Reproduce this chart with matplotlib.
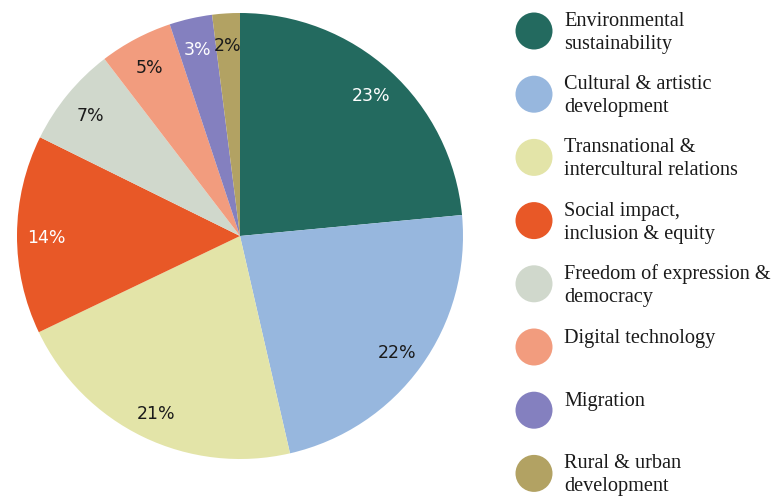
import matplotlib
matplotlib.use("Agg")
import matplotlib.pyplot as plt
from matplotlib.patches import Circle
import numpy as np

# Data
categories = [
    "Environmental\nsustainability",
    "Cultural & artistic\ndevelopment",
    "Transnational &\nintercultural relations",
    "Social impact,\ninclusion & equity",
    "Freedom of expression &\ndemocracy",
    "Digital technology",
    "Migration",
    "Rural & urban\ndevelopment",
]
shares = [23.5, 22.9, 21.5, 14.4, 7.3, 5.3, 3.1, 2.0]
pct_labels = ["23%", "22%", "21%", "14%", "7%", "5%", "3%", "2%"]
colors = ["#236A5F", "#97B7DE", "#E3E4A8", "#E85827",
          "#D0D8CC", "#F29C7E", "#8480BF", "#B2A263"]
label_colors = ["white", "#1a1a1a", "#1a1a1a", "white",
                "#1a1a1a", "#1a1a1a", "white", "#1a1a1a"]

W, H = 776, 496
fig = plt.figure(figsize=(W / 100, H / 100), dpi=100)

# Pie
ax = fig.add_axes([17 / W, (H - 459) / H, 446 / W, 446 / H])
wedges, _ = ax.pie(shares, colors=colors, startangle=90, counterclock=False,
                   radius=1.0, wedgeprops=dict(linewidth=0))
ax.set_xlim(-1, 1)
ax.set_ylim(-1, 1)
ax.set_aspect("equal")

for w, txt, c in zip(wedges, pct_labels, label_colors):
    ang = np.deg2rad((w.theta1 + w.theta2) / 2)
    r = 0.87
    ax.text(r * np.cos(ang), r * np.sin(ang) - 0.015, txt, ha="center",
            va="center", color=c, fontsize=12.5, family="DejaVu Sans")

# Legend drawn in pixel coordinates
lax = fig.add_axes([0, 0, 1, 1])
lax.set_xlim(0, W)
lax.set_ylim(H, 0)
lax.axis("off")
row_y0, row_step = 31, 63.2
for i, (name, col) in enumerate(zip(categories, colors)):
    y = row_y0 + i * row_step
    lax.add_patch(Circle((534, y), 18.5, color=col, lw=0))
    ty = y + 2 if "\n" in name else y - 9
    lax.text(564, ty, name, ha="left", va="center", fontsize=14.6,
             family="Liberation Serif", color="#1a1a1a", linespacing=1.28)

fig.savefig("out.png", dpi=100)
